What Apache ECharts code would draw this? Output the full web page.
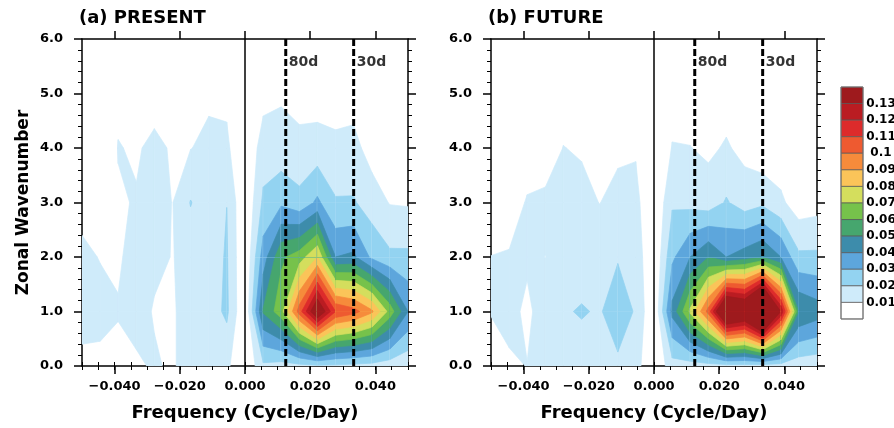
<!DOCTYPE html>
<html><head><meta charset="utf-8">
<script src="https://cdn.jsdelivr.net/npm/echarts@6/dist/echarts.min.js"></script>
<style>html,body{margin:0;padding:0;background:#fff}#c{width:894px;height:428px}</style>
</head><body><div id="c"></div><script>
// ---- data (frequency in cycle/day, zonal wavenumber, spectral power) ----
const FREQ = [-0.05, -0.0444, -0.0389, -0.0333, -0.0278, -0.0222, -0.0167, -0.0111, -0.0056, 0,
              0.0056, 0.0111, 0.0167, 0.0222, 0.0278, 0.0333, 0.0389, 0.0444, 0.05];
const WAVENUMBER = [0, 1, 2, 3, 4, 5, 6];
// rows = wavenumber 0..6, columns = FREQ
const PRESENT = [
  [0.007, 0.0075, 0.006, 0.008, 0.0115, 0.008, 0.018, 0.016, 0.0122, 0, 0.018, 0.016, 0.017, 0.018, 0.018, 0.017, 0.016, 0.014, 0.012],
  [0.0145, 0.013, 0.0109, 0.0147, 0.009, 0.009, 0.014, 0.015, 0.022, 0, 0.051, 0.066, 0.105, 0.145, 0.110, 0.104, 0.092, 0.066, 0.040],
  [0.012, 0.0096, 0.0082, 0.0154, 0.0125, 0.0096, 0.014, 0.015, 0.021, 0, 0.035, 0.058, 0.065, 0.080, 0.040, 0.042, 0.028, 0.022, 0.022],
  [0.007, 0.006, 0.0095, 0.0103, 0.013, 0.0098, 0.0205, 0.014, 0.0199, 0, 0.022, 0.028, 0.023, 0.032, 0.021, 0.021, 0.015, 0.0095, 0.009],
  [0.005, 0.005, 0.0102, 0.0095, 0.0111, 0.0095, 0.0097, 0.0125, 0.012, 0, 0.015, 0.014, 0.013, 0.014, 0.012, 0.013, 0.006, 0.005, 0.005],
  [0.004, 0.004, 0.0089, 0.006, 0.008, 0.007, 0.008, 0.0082, 0.0078, 0, 0.0065, 0.0087, 0.006, 0.0055, 0.006, 0.006, 0.004, 0.003, 0.003],
  [0.003, 0.003, 0.004, 0.004, 0.004, 0.004, 0.004, 0.004, 0.003, 0, 0.003, 0.003, 0.003, 0.003, 0.003, 0.003, 0.002, 0.002, 0.002]
];
const FUTURE = [
  [0.007, 0.0085, 0.0102, 0.012, 0.013, 0.014, 0.014, 0.0177, 0.014, 0, 0.016, 0.015, 0.016, 0.016, 0.016, 0.015, 0.015, 0.014, 0.013],
  [0.0103, 0.013, 0.008, 0.0147, 0.0188, 0.021, 0.0188, 0.0267, 0.0188, 0, 0.043, 0.072, 0.104, 0.165, 0.155, 0.20, 0.13, 0.05, 0.045],
  [0.0101, 0.0105, 0.0115, 0.0099, 0.014, 0.014, 0.016, 0.0191, 0.016, 0, 0.028, 0.040, 0.05, 0.04, 0.045, 0.05, 0.04, 0.022, 0.022],
  [0.006, 0.007, 0.0105, 0.012, 0.013, 0.013, 0.0098, 0.013, 0.013, 0, 0.0187, 0.017, 0.0145, 0.021, 0.015, 0.018, 0.012, 0.0045, 0.006],
  [0.004, 0.004, 0.007, 0.005, 0.0102, 0.009, 0.007, 0.0082, 0.009, 0, 0.0105, 0.0102, 0.0083, 0.011, 0.0074, 0.003, 0.0035, 0.003, 0.003],
  [0.003, 0.003, 0.004, 0.004, 0.006, 0.005, 0.004, 0.005, 0.005, 0, 0.006, 0.006, 0.004, 0.006, 0.004, 0.003, 0.003, 0.002, 0.002],
  [0.002, 0.002, 0.002, 0.002, 0.003, 0.003, 0.002, 0.003, 0.003, 0, 0.003, 0.003, 0.002, 0.003, 0.002, 0.002, 0.002, 0.002, 0.002]
];
const LEVELS = [0.01, 0.02, 0.03, 0.04, 0.05, 0.06, 0.07, 0.08, 0.09, 0.10, 0.11, 0.12, 0.13];
const COLORS = ['#CFEBFA', '#93D3F1', '#5DA6DC', '#3D8CAB', '#46A66E', '#76C24B', '#D4DE5D',
                '#FBC459', '#F68B3B', '#EE5A30', '#DD2B2B', '#BA1C22', '#9E1A1D'];
const CBAR_LABELS = ['0.13', '0.12', '0.11', '0.1', '0.09', '0.08', '0.07', '0.06', '0.05', '0.04', '0.03', '0.02', '0.01'];
const X_TICKS = [-0.04, -0.02, 0, 0.02, 0.04];
const PERIOD_FREQ = [1 / 80, 1 / 30];
const PERIOD_LABELS = ['80d', '30d'];
const TITLES = ['(a) PRESENT', '(b) FUTURE'];
const GRIDS = [PRESENT, FUTURE];

// ---- layout ----
const FONT = 'DejaVu Sans';
const PANEL_LEFT = [82, 491];
const PANEL_TOP = 39, PANEL_W = 326, PANEL_H = 327;

function fmtX(v) {
  const s = Math.abs(v).toFixed(3);
  return (v < -1e-9 ? '\u2212' : '') + s;
}

// polygon clipped to region value >= L (values linear along edges)
function clipAbove(poly, L) {
  const out = [];
  const n = poly.length;
  for (let k = 0; k < n; k++) {
    const A = poly[k], B = poly[(k + 1) % n];
    const ain = A.v >= L, bin = B.v >= L;
    if (ain) out.push(A);
    if (ain !== bin) {
      const t = (L - A.v) / (B.v - A.v);
      out.push({x: A.x + t * (B.x - A.x), y: A.y + t * (B.y - A.y), v: L});
    }
  }
  return out;
}

function contourSeries(grid, p) {
  const cells = [];
  for (let j = 0; j < WAVENUMBER.length - 1; j++)
    for (let i = 0; i < FREQ.length - 1; i++)
      cells.push([FREQ[i], WAVENUMBER[j], i, j]);
  return {
    type: 'custom', xAxisIndex: p * 4, yAxisIndex: p * 2, z: 1, silent: true, clip: true,
    animation: false, encode: {x: 0, y: 1}, data: cells,
    renderItem(params, api) {
      const i = api.value(2), j = api.value(3);
      const corners = [[i, j], [i + 1, j], [i + 1, j + 1], [i, j + 1]]
        .map(([a, b]) => ({x: FREQ[a], y: WAVENUMBER[b], v: grid[b][a]}));
      const children = [];
      LEVELS.forEach((L, li) => {
        const poly = clipAbove(corners, L);
        if (poly.length < 3) return;
        children.push({
          type: 'polygon',
          shape: {points: poly.map(q => api.coord([q.x, q.y]))},
          style: {fill: COLORS[li], stroke: COLORS[li], lineWidth: 0.7}
        });
      });
      return {type: 'group', children};
    }
  };
}

const lineCol = '#000';
const tickFont = {fontFamily: FONT, fontSize: 13, fontWeight: 'bold', color: '#000'};
function xAxes(p) {
  const base = {gridIndex: p, type: 'value', min: -0.05, max: 0.05, splitLine: {show: false}};
  const line = {show: true, onZero: false, lineStyle: {color: lineCol, width: 1.5}};
  return [
    Object.assign({}, base, {
      position: 'bottom', axisLine: line,
      axisTick: {show: true, customValues: X_TICKS, length: 8, lineStyle: {color: lineCol, width: 1.5}},
      axisLabel: Object.assign({customValues: X_TICKS, formatter: fmtX, margin: 14}, tickFont),
      name: 'Frequency (Cycle/Day)', nameLocation: 'middle', nameGap: 38,
      nameTextStyle: {fontFamily: FONT, fontSize: 18, fontWeight: 'bold', color: '#000'}
    }),
    Object.assign({}, base, {
      position: 'bottom', interval: 0.005, axisLine: {show: false},
      axisTick: {show: true, length: 4, lineStyle: {color: lineCol, width: 1}}, axisLabel: {show: false}
    }),
    Object.assign({}, base, {
      position: 'top', axisLine: line,
      axisTick: {show: true, customValues: X_TICKS, length: 8, lineStyle: {color: lineCol, width: 1.5}},
      axisLabel: {show: false}
    }),
    Object.assign({}, base, {
      position: 'top', interval: 0.005, axisLine: {show: false},
      axisTick: {show: true, length: 4, lineStyle: {color: lineCol, width: 1}}, axisLabel: {show: false}
    })
  ];
}
function yAxes(p) {
  const base = {
    gridIndex: p, type: 'value', min: 0, max: 6, interval: 1, splitLine: {show: false},
    axisLine: {show: true, onZero: false, lineStyle: {color: lineCol, width: 1.5}},
    axisTick: {show: true, length: 8, lineStyle: {color: lineCol, width: 1.5}},
    minorTick: {show: true, splitNumber: 5, length: 4, lineStyle: {color: lineCol, width: 1}},
    minorSplitLine: {show: false}
  };
  const left = Object.assign({}, base, {
    position: 'left',
    axisLabel: Object.assign({formatter: v => v.toFixed(1), margin: 19}, tickFont)
  });
  if (p === 0) Object.assign(left, {
    name: 'Zonal Wavenumber', nameLocation: 'middle', nameGap: 50,
    nameTextStyle: {fontFamily: FONT, fontSize: 17, fontWeight: 'bold', color: '#000'}
  });
  const right = Object.assign({}, base, {position: 'right', axisLabel: {show: false}});
  return [left, right];
}

const series = [];
const wnMin = WAVENUMBER[0], wnMax = WAVENUMBER[WAVENUMBER.length - 1];
[0, 1].forEach(p => {
  series.push(contourSeries(GRIDS[p], p));
  // zero-frequency line
  series.push({
    type: 'line', xAxisIndex: p * 4, yAxisIndex: p * 2, z: 5, silent: true, symbol: 'none',
    animation: false, data: [[0, wnMin], [0, wnMax]],
    lineStyle: {color: '#000', width: 1.5, type: 'solid'}
  });
  // 80-day and 30-day period lines
  PERIOD_FREQ.forEach(f => {
    series.push({
      type: 'line', xAxisIndex: p * 4, yAxisIndex: p * 2, z: 5, silent: true, symbol: 'none',
      animation: false, data: [[f, wnMin], [f, wnMax]],
      lineStyle: {color: '#000', width: 3, type: [7, 3]}
    });
  });
  series.push({
    type: 'scatter', xAxisIndex: p * 4, yAxisIndex: p * 2, z: 6, silent: true, symbolSize: 0,
    animation: false,
    data: PERIOD_FREQ.map((f, i) => ({value: [f, 5.57], label: {formatter: PERIOD_LABELS[i]}})),
    label: {show: true, position: 'right', distance: 3, fontFamily: FONT, fontSize: 14, fontWeight: 'bold', color: '#000'}
  });
});

// colour bar
const CB_X = 841, CB_Y = 87, CB_W = 22, CB_H = 16.57;
const cbColors = COLORS.slice().reverse().concat(['#ffffff']);
const graphic = [];
cbColors.forEach((c, i) => {
  graphic.push({type: 'rect', shape: {x: CB_X, y: CB_Y + i * CB_H, width: CB_W, height: CB_H},
    style: {fill: c, stroke: '#555', lineWidth: 0.7}, silent: true});
});
graphic.push({type: 'rect', shape: {x: CB_X, y: CB_Y, width: CB_W, height: CB_H * cbColors.length},
  style: {fill: 'none', stroke: '#777', lineWidth: 1}, silent: true});
CBAR_LABELS.forEach((t, i) => {
  graphic.push({type: 'text', silent: true, style: {text: t, x: 881, y: CB_Y + (i + 1) * CB_H,
    textAlign: 'center', textVerticalAlign: 'middle', fontFamily: FONT, fontSize: 12, fontWeight: 'bold', fill: '#000'}});
});

const chart = echarts.init(document.getElementById('c'), null, {renderer: 'canvas'});
chart.setOption({
  animation: false,
  backgroundColor: '#fff',
  title: TITLES.map((t, p) => ({text: t, left: PANEL_LEFT[p] - 3, top: 9, padding: 0,
    textStyle: {fontFamily: FONT, fontSize: 18, fontWeight: 'bold', color: '#000'}})),
  grid: [0, 1].map(p => ({left: PANEL_LEFT[p], top: PANEL_TOP, width: PANEL_W, height: PANEL_H, containLabel: false})),
  xAxis: xAxes(0).concat(xAxes(1)),
  yAxis: yAxes(0).concat(yAxes(1)),
  series,
  graphic
});
</script></body></html>
